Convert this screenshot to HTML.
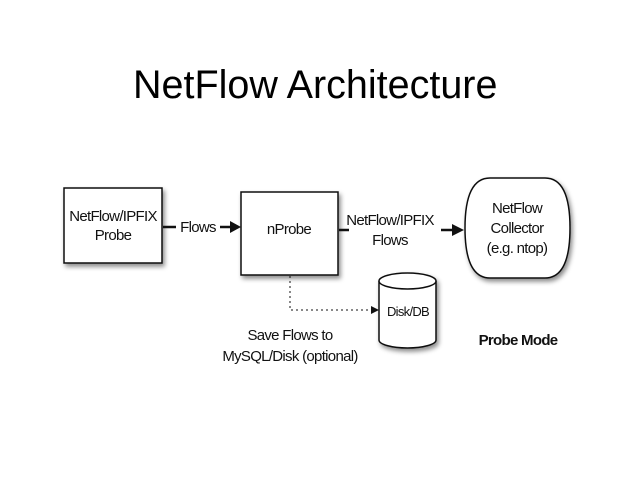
<!DOCTYPE html>
<html><head><style>
body{margin:0;width:638px;height:479px;background:#fff;overflow:hidden;position:relative;font-family:"Liberation Sans",sans-serif}
.t{position:absolute;left:133px;top:63px;font-size:39.5px;color:#000;white-space:nowrap}
</style></head><body>
<div class="t">NetFlow Architecture</div>
<svg width="638" height="479" style="position:absolute;left:0;top:0" font-family="Liberation Sans, sans-serif" font-size="15" letter-spacing="-0.7" fill="#111">
<defs><filter id="s" x="-20%" y="-20%" width="150%" height="150%"><feDropShadow dx="2" dy="3" stdDeviation="2.5" flood-opacity="0.45"/></filter></defs>
<rect x="64" y="188" width="98" height="75" fill="#fff" stroke="#111" stroke-width="1.5" filter="url(#s)"/>
<rect x="241" y="192" width="97" height="83" fill="#fff" stroke="#111" stroke-width="1.5" filter="url(#s)"/>
<path d="M490 178 H545 Q570 178 570 228 Q570 278 545 278 H490 Q465 278 465 228 Q465 178 490 178 Z" fill="#fff" stroke="#111" stroke-width="1.5" filter="url(#s)"/>
<g filter="url(#s)">
<path d="M379 281 v59 a28.5 8 0 0 0 57 0 v-59" fill="#fff" stroke="#111" stroke-width="1.5"/>
<ellipse cx="407.5" cy="281" rx="28.5" ry="8" fill="#fff" stroke="#111" stroke-width="1.5"/>
</g>
<g text-anchor="middle">
<text x="113" y="221">NetFlow/IPFIX</text><text x="113" y="240">Probe</text>
<text x="289" y="234">nProbe</text>
<text x="517" y="213">NetFlow</text><text x="517" y="233">Collector</text><text x="517" y="253">(e.g. ntop)</text>
<text x="408" y="316" font-size="13">Disk/DB</text>
<text x="390" y="225">NetFlow/IPFIX</text><text x="390" y="245">Flows</text>
<text x="290" y="340">Save Flows to</text><text x="290" y="361">MySQL/Disk (optional)</text>
<text x="198" y="232">Flows</text>
<text x="518" y="345" font-weight="bold">Probe Mode</text>
</g>
<g stroke="#111" stroke-width="2.5">
<line x1="163" y1="227" x2="176" y2="227"/><line x1="220" y1="227" x2="232" y2="227"/>
<line x1="339" y1="230" x2="349" y2="230"/><line x1="441" y1="230" x2="452" y2="230"/>
</g>
<polygon points="230,221 241,227 230,233" fill="#111"/>
<polygon points="452,224 464,230 452,236" fill="#111"/>
<path d="M290 276 V310 H372" fill="none" stroke="#111" stroke-width="1" stroke-dasharray="2,3"/>
<polygon points="371,306 379,310 371,314" fill="#111"/>
</svg>
</body></html>
